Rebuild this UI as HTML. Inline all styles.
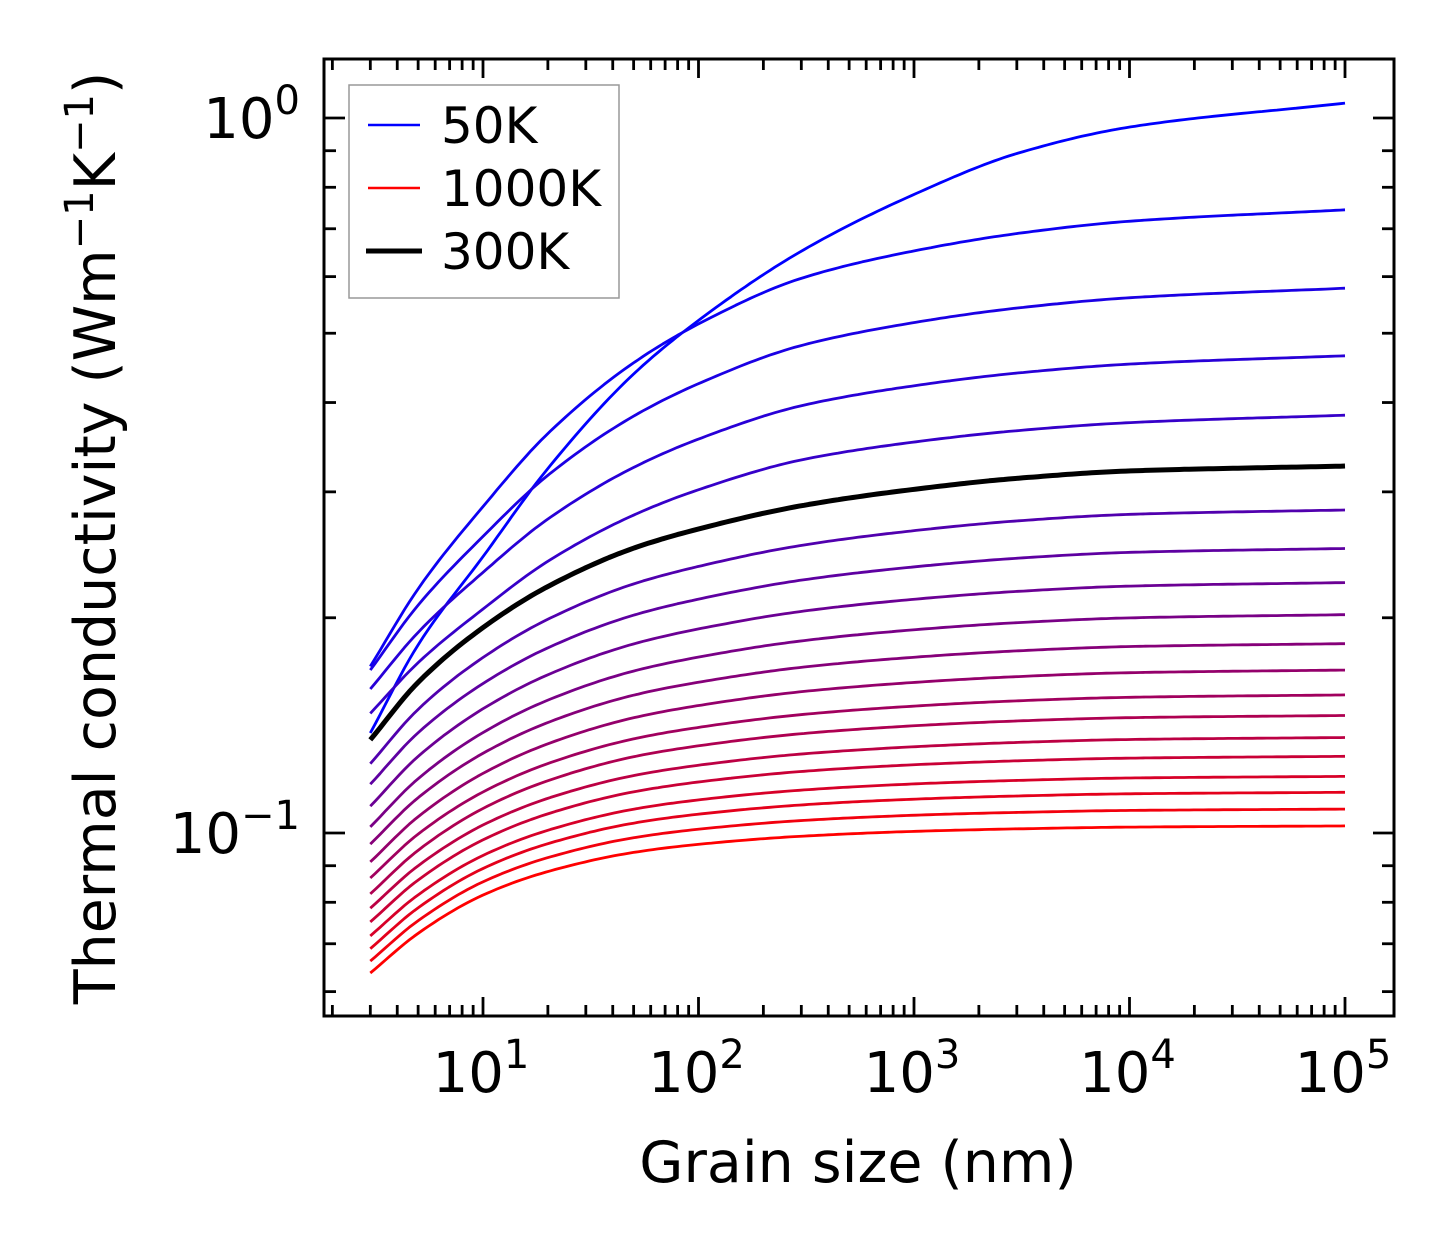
<!DOCTYPE html>
<html><head><meta charset="utf-8"><style>
html,body{margin:0;padding:0;background:#fff;}
svg{display:block;font-family:"DejaVu Sans","Liberation Sans",sans-serif;}
</style></head><body>
<svg id="chart" width="1454" height="1254" viewBox="0 0 1454 1254" xmlns="http://www.w3.org/2000/svg">
<rect width="1454" height="1254" fill="#fff"/>
<g id="curves"></g>
<g id="ticks"></g>
<rect x="324" y="59" width="1070" height="957" fill="none" stroke="#000" stroke-width="3"/>
<g id="labels" font-size="56" fill="#000"></g>
<text x="858" y="1182" font-size="57" text-anchor="middle">Grain size (nm)</text>
<text transform="translate(115,538) rotate(-90)" font-size="57" text-anchor="middle">Thermal conductivity (Wm<tspan dy="-22" font-size="40">−1</tspan><tspan dy="22">K</tspan><tspan dy="-22" font-size="40">−1</tspan><tspan dy="22">)</tspan></text>
<g>
<rect x="349" y="85" width="270" height="213" fill="#fff" stroke="#999" stroke-width="1.5"/>
<line x1="368" y1="125" x2="420" y2="125" stroke="#0000ff" stroke-width="2.6"/>
<text x="441" y="143" font-size="50">50K</text>
<line x1="368" y1="188" x2="420" y2="188" stroke="#ff0000" stroke-width="2.6"/>
<text x="441" y="206" font-size="50">1000K</text>
<line x1="366" y1="251" x2="422" y2="251" stroke="#000" stroke-width="5"/>
<text x="441" y="269" font-size="50">300K</text>
</g>
</svg>
<script>
const temps = [50,100,150,200,250,300,350,400,450,500,550,600,650,700,750,800,850,900,950,1000];
const kStart = [0.138,0.171,0.169,0.159,0.147,0.135,0.125,0.117,0.109,0.102,0.0965,0.0911,0.0865,0.0822,0.0785,0.0751,0.0718,0.0689,0.0662,0.0637];
const kEnd = [1.049,0.744,0.578,0.465,0.384,0.326,0.283,0.250,0.224,0.202,0.184,0.169,0.156,0.146,0.136,0.128,0.120,0.114,0.108,0.1023];
const grain = [3,5,10,20,50,100,300,1000,3000,10000,100000];
const profile50 = [0,0.14,0.28,0.42,0.57,0.655,0.765,0.855,0.92,0.962,1];
const profileBlue = [0,0.17,0.35,0.51,0.665,0.75,0.85,0.91,0.948,0.975,1];
const profileBlack = [0,0.21,0.41,0.56,0.70,0.77,0.855,0.915,0.955,0.982,1];
const profileRed = [0,0.27,0.53,0.69,0.82,0.875,0.93,0.963,0.98,0.992,1];
const xTickLabels = ["1","2","3","4","5"];
const yTickLabels = ["0","−1"];

const X0=483, XD=215.5, Y0=118, YD=715;
function xs(v){return X0+(Math.log10(v)-1)*XD;}
function ys(v){return Y0-Math.log10(v)*YD;}
const NS="http://www.w3.org/2000/svg";
const curves=document.getElementById('curves');
function profFor(i){
  const T=temps[i];
  if(T===50) return profile50;
  if(T<300) return profileBlue;
  if(T===300) return profileBlack;
  const t=(T-300)/700;
  return profileBlack.map((p,j)=>p*(1-t)+profileRed[j]*t);
}
function pchip(xk,yk){
  const n=xk.length,h=[],d=[],m=new Array(n);
  for(let i=0;i<n-1;i++){h[i]=xk[i+1]-xk[i];d[i]=(yk[i+1]-yk[i])/h[i];}
  m[0]=d[0];m[n-1]=d[n-2];
  for(let i=1;i<n-1;i++){
    if(d[i-1]*d[i]<=0)m[i]=0;
    else{const w1=2*h[i]+h[i-1],w2=h[i]+2*h[i-1];m[i]=(w1+w2)/(w1/d[i-1]+w2/d[i]);}
  }
  return function(x){
    let i=0;while(i<n-2&&x>xk[i+1])i++;
    const t=(x-xk[i])/h[i],t2=t*t,t3=t2*t;
    return (2*t3-3*t2+1)*yk[i]+(t3-2*t2+t)*h[i]*m[i]+(-2*t3+3*t2)*yk[i+1]+(t3-t2)*h[i]*m[i+1];
  };
}
const lg=grain.map(g=>Math.log10(g));
const order=temps.map((t,i)=>i).filter(i=>temps[i]!==300).concat(temps.indexOf(300));
order.forEach(i=>{
  const T=temps[i];
  const pr=profFor(i);
  const ls=Math.log10(kStart[i]), le=Math.log10(kEnd[i]);
  const f=pchip(lg,pr.map(p=>ls+(le-ls)*p));
  let d="";
  const N=200;
  for(let s=0;s<=N;s++){
    const lx=lg[0]+(lg[lg.length-1]-lg[0])*s/N;
    const x=X0+(lx-1)*XD, y=Y0-f(lx)*YD;
    d+=(s?"L":"M")+x.toFixed(1)+","+y.toFixed(1);
  }
  const p=document.createElementNS(NS,'path');
  p.setAttribute('d',d);
  const t=(T-50)/950;
  const col=T===300?'#000':'rgb('+Math.round(255*t)+',0,'+Math.round(255*(1-t))+')';
  p.setAttribute('stroke',col);
  p.setAttribute('fill','none');
  p.setAttribute('stroke-linejoin','round');
  p.setAttribute('stroke-width',T===300?5:2.8);
  
  
  curves.appendChild(p);
});
const ticks=document.getElementById('ticks');
function ln(x1,y1,x2,y2,name){
  const l=document.createElementNS(NS,'line');
  l.setAttribute('x1',x1);l.setAttribute('y1',y1);l.setAttribute('x2',x2);l.setAttribute('y2',y2);
  l.setAttribute('stroke','#000');l.setAttribute('stroke-width',2.8);
  
  
  ticks.appendChild(l);
}
const L=324,R=1394,T0=59,B=1016;
for(let e=0;e<=5;e++){for(let m=1;m<=9;m++){
  const v=m*Math.pow(10,e);const x=xs(v);
  if(x<L+2||x>R-2)continue;
  const len=m===1?19:11;
  ln(x,B,x,B-len,'x-tick');ln(x,T0,x,T0+len,'x-tick-top');
}}
for(let e=-2;e<=0;e++){for(let m=1;m<=9;m++){
  const v=m*Math.pow(10,e);const y=ys(v);
  if(y<T0+2||y>B-2)continue;
  const len=m===1?21:12;
  ln(L,y,L+len,y,'y-tick');ln(R,y,R-len,y,'y-tick-right');
}}
const labels=document.getElementById('labels');
xTickLabels.forEach((s,i)=>{
  const t=document.createElementNS(NS,'text');
  const x=xs(Math.pow(10,i+1));
  t.setAttribute('x',x-2);t.setAttribute('y',1092);t.setAttribute('text-anchor','middle');
  t.innerHTML='10<tspan dy="-24" font-size="40">'+s+'</tspan>';
  
  
  labels.appendChild(t);
});
yTickLabels.forEach((s,i)=>{
  const t=document.createElementNS(NS,'text');
  const y=ys(Math.pow(10,-i));
  t.setAttribute('x',300);t.setAttribute('y',y+20);t.setAttribute('text-anchor','end');
  t.innerHTML='10<tspan dy="-24" font-size="40">'+s+'</tspan>';
  
  
  labels.appendChild(t);
});
</script>
</body></html>
